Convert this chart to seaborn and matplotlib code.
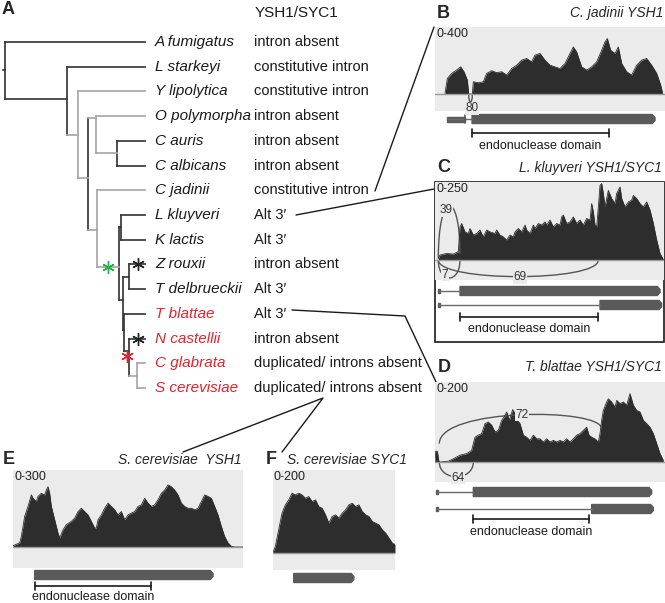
import matplotlib
matplotlib.use('Agg')
import matplotlib.pyplot as plt
import matplotlib.transforms as mtransforms
from matplotlib.patches import Rectangle, PathPatch, Polygon
from matplotlib.path import Path
import seaborn as sns

# ---------------- data ----------------
species = ['A fumigatus', 'L starkeyi', 'Y lipolytica', 'O polymorpha', 'C auris',
           'C albicans', 'C jadinii', 'L kluyveri', 'K lactis', 'Z rouxii',
           'T delbrueckii', 'T blattae', 'N castellii', 'C glabrata', 'S cerevisiae']
status = ['intron absent', 'constitutive intron', 'constitutive intron', 'intron absent',
          'intron absent', 'intron absent', 'constitutive intron', "Alt 3\u2032", "Alt 3\u2032",
          'intron absent', "Alt 3\u2032", "Alt 3\u2032", 'intron absent',
          'duplicated/ introns absent', 'duplicated/ introns absent']
red_species = ['T blattae', 'N castellii', 'C glabrata', 'S cerevisiae']

# tree: internal nodes (depth 0..1, leaves at depth 1), row position, parent
node_names = ['root', 'n2', 'n3', 'n4', 'n5', 'n6', 'n7', 'n8', 'nKK', 'n9', 'nZT', 'nT', 'nN', 'nCS']
node_depth = [0.0, 0.443, 0.521, 0.593, 0.650, 0.800, 0.657, 0.814, 0.829, 0.843, 0.886, 0.850, 0.886, 0.943]
node_row = [1.15, 2.31, 3.77, 5.5, 3.08, 4.5, 7.6, 9.1, 7.5, 10.45, 9.5, 11.66, 12.5, 13.5]
node_parent = [None, 'root', 'n2', 'n3', 'n4', 'n5', 'n4', 'n7', 'n8', 'n8', 'n9', 'n9', 'nT', 'nN']
node_edge_light = [False, False, True, True, True, True, True, True, False, False, False, False, False, True]
node_vert_light = [False, False, True, False, True, False, True, False, False, False, False, False, False, True]
leaf_parent = ['root', 'n2', 'n3', 'n5', 'n6', 'n6', 'n7', 'nKK', 'nKK', 'nZT', 'nZT', 'nT', 'nN', 'nCS', 'nCS']
leaf_light = [False, False, True, True, False, False, True, False, False, False, False, False, False, True, True]
# event marks on branches: depth, row, colour
mark_depth = [0.736, 0.95, 0.95, 0.871]
mark_row = [9.1, 9.0, 12.0, 12.7]
mark_color = ['#22b04b', '#222222', '#222222', '#e8212b']

# coverage tracks (position, read depth)
B_pos = [30, 37, 50, 65, 77, 87, 97, 101, 112, 115, 130, 145, 155, 170, 185, 200, 215, 230,
         245, 260, 275, 290, 300, 315, 330, 345, 360, 375, 390, 405, 415, 425, 440, 455, 470,
         485, 500, 510, 517, 527, 540, 550, 560, 575, 590, 605, 620, 635, 650, 665, 677, 683]
B_cov = [4, 93, 123, 143, 162, 133, 83, 0, 0, 73, 67, 73, 123, 139, 127, 133, 113, 152,
         172, 202, 212, 192, 232, 242, 202, 172, 162, 152, 182, 242, 281, 251, 162, 143, 162,
         192, 261, 311, 331, 261, 242, 281, 182, 133, 113, 172, 202, 212, 172, 123, 53, 4]

C_pos = [10, 15, 35, 55, 70, 75, 80, 90, 100, 105, 115, 125, 135, 145, 155, 165, 180, 185,
         195, 205, 215, 225, 235, 240, 250, 260, 270, 275, 285, 295, 300, 310, 320, 330, 335,
         345, 355, 365, 375, 380, 385, 395, 405, 415, 425, 435, 445, 455, 465, 470, 475, 480,
         485, 490, 495, 500, 505, 510, 515, 520, 530, 540, 545, 555, 560, 570, 580, 590, 595,
         605, 615, 625, 635, 645, 655, 665, 675, 685]
C_cov = [5, 16, 21, 19, 27, 106, 117, 90, 85, 101, 80, 85, 96, 74, 96, 90, 85, 96,
         80, 74, 64, 80, 74, 90, 101, 90, 112, 96, 85, 112, 101, 117, 112, 122, 112,
         128, 106, 117, 112, 138, 144, 117, 122, 138, 117, 128, 112, 133, 128, 181, 154, 112,
         106, 170, 239, 245, 213, 170, 197, 223, 197, 181, 213, 234, 197, 170, 186, 192, 207,
         197, 181, 170, 186, 160, 117, 64, 21, 2]

D_pos = [0, 2, 7, 11, 15, 40, 55, 75, 95, 110, 115, 120, 130, 140, 150, 160, 170, 180, 190,
         200, 207, 215, 223, 233, 240, 247, 255, 265, 275, 285, 295, 305, 315, 325, 335, 345,
         355, 365, 375, 385, 395, 405, 415, 425, 435, 445, 455, 462, 470, 480, 490, 495, 500,
         505, 515, 520, 530, 540, 545, 555, 565, 575, 585, 595, 605, 615, 625, 635, 645, 655,
         665, 675, 685]
D_cov = [0, 27, 27, 4, 0, 2, 8, 17, 21, 29, 46, 62, 67, 71, 96, 100, 92, 75, 79,
         104, 112, 125, 104, 131, 121, 104, 96, 67, 62, 54, 67, 58, 58, 50, 58, 50,
         54, 50, 54, 50, 58, 50, 58, 67, 71, 79, 87, 67, 62, 58, 50, 71, 104,
         129, 150, 158, 150, 137, 154, 146, 150, 142, 171, 142, 129, 125, 104, 96, 87, 71,
         46, 21, 4]

E_pos = [0, 20, 25, 35, 45, 55, 60, 70, 75, 85, 95, 100, 105, 110, 115, 125, 135, 140, 150,
         160, 175, 185, 195, 205, 215, 225, 235, 245, 250, 255, 265, 275, 285, 295, 305, 315,
         325, 335, 345, 355, 365, 375, 385, 395, 405, 415, 425, 435, 445, 455, 465, 475, 485,
         495, 505, 515, 525, 535, 545, 555, 565, 575, 585, 595, 605, 615, 625, 635, 645, 655,
         665, 690]
E_cov = [5, 16, 41, 119, 158, 203, 190, 177, 197, 209, 203, 222, 235, 209, 158, 106, 54, 35, 67,
         87, 100, 112, 138, 151, 138, 125, 100, 74, 74, 106, 125, 151, 171, 158, 145, 125,
         138, 106, 125, 132, 138, 158, 164, 190, 171, 158, 164, 184, 209, 222, 242, 235, 222,
         203, 171, 158, 151, 151, 145, 151, 177, 203, 197, 190, 158, 125, 80, 41, 16, 3,
         0, 0]

F_pos = [0, 7, 17, 27, 37, 47, 57, 67, 77, 87, 97, 107, 117, 127, 137, 147, 157, 167, 177,
         187, 197, 207, 217, 227, 237, 247, 257, 267, 277, 287, 297, 307, 317, 327, 337, 347,
         357, 365]
F_cov = [2, 16, 56, 96, 116, 128, 144, 140, 144, 140, 132, 136, 124, 128, 112, 108, 92, 72, 88,
         92, 84, 96, 104, 116, 120, 112, 116, 100, 92, 88, 76, 72, 68, 56, 48, 36,
         24, 20]

# splice junctions: start, end, read count
B_junc = [(101, 112, 80)]
C_junc_up = [(10, 75, 39)]
C_junc_down = [(10, 75, 7), (10, 490, 69)]
D_junc_up = [(13, 500, 72)]
D_junc_down = [(13, 115, 64)]

# gene models: (intron-line start, exon start, exon end)
B_models = [(36, 111, 660)]
C_models = [(10, 75, 675), (10, 495, 680)]
D_models = [(3, 115, 650), (3, 470, 655)]
E_models = [(65, 65, 600)]
F_models = [(62, 62, 242)]
domain = {'B': (111, 522), 'C': (75, 490), 'D': (113, 463), 'E': (65, 415)}

# ---------------- figure ----------------
sns.set_theme(style='white')
plt.rcParams['font.family'] = ['Liberation Sans', 'DejaVu Sans']

W, H = 665, 603
fig = plt.figure(figsize=(W / 100, H / 100), dpi=100)
ov = fig.add_axes([0, 0, 1, 1])
ov.set_xlim(0, W)
ov.set_ylim(H, 0)
ov.axis('off')

DARK, LIGHT = '#383838', '#a8a8a8'

# ---- tree ----
tree = fig.add_axes([5 / W, 1 - 388 / H, 140 / W, 346 / H])
tree.set_xlim(0, 1)
tree.set_ylim(14, 0)
tree.axis('off')
depth = dict(zip(node_names, node_depth))
row = dict(zip(node_names, node_row))
children = {n: [] for n in node_names}
for n, p in zip(node_names, node_parent):
    if p:
        children[p].append(row[n])
for i, p in enumerate(leaf_parent):
    children[p].append(i)

kw = dict(lw=1.25, solid_capstyle='projecting', clip_on=False)
for n, p, el, vl in zip(node_names, node_parent, node_edge_light, node_vert_light):
    tree.plot([depth[n]] * 2, [min(children[n]), max(children[n])], color=LIGHT if vl else DARK, **kw)
    if p:
        tree.plot([depth[p], depth[n]], [row[n]] * 2, color=LIGHT if el else DARK, **kw)
tree.plot([-0.015, 0], [row['root']] * 2, color=DARK, **kw)
for i, (p, lt) in enumerate(zip(leaf_parent, leaf_light)):
    tree.plot([depth[p], 1], [i, i], color=LIGHT if lt else DARK, **kw)
for d, r, c in zip(mark_depth, mark_row, mark_color):
    tree.plot(d, r, marker=(6, 2, 0), ms=9, mew=1.0, color=c, clip_on=False)

tr = mtransforms.blended_transform_factory(ov.transData, tree.transData)
for i, (sp, st) in enumerate(zip(species, status)):
    tree.text(155, i, sp, transform=tr, style='italic', fontsize=11, va='center',
              color='#e8212b' if sp in red_species else '#1a1a1a')
    tree.text(254, i, st, transform=tr, fontsize=10.5, va='center', color='#1a1a1a')
ov.text(255, 13, 'YSH1/SYC1', fontsize=11, va='center', color='#1a1a1a')
ov.text(2, 10, 'A', fontsize=13, fontweight='bold', va='center')

# connectors
ov.plot([375, 434], [191, 27], color='#1a1a1a', lw=1)
ov.plot([296, 434], [215, 189], color='#1a1a1a', lw=1)
ov.plot([292, 405, 437], [310, 316, 384], color='#1a1a1a', lw=1)
ov.plot([183, 323, 282], [452, 398, 452], color='#1a1a1a', lw=1)


# ---- coverage panels ----
def panel(x0, x1, top, base, bottom, xmax, ymax, pos, cov, rng):
    ax = fig.add_axes([x0 / W, 1 - bottom / H, (x1 - x0) / W, (bottom - top) / H])
    ax.set_facecolor('#ebebeb')
    ax.fill_between(pos, cov, 0, color='#2d2d2d', lw=0)
    sns.lineplot(x=pos, y=cov, ax=ax, color='#2d2d2d', lw=0.6)
    ax.axhline(0, color='#9a9a9a', lw=1)
    ax.set_xlim(0, xmax)
    ax.set_ylim(-ymax * (bottom - base) / (base - top), ymax)
    ax.set_xticks([])
    ax.set_yticks([])
    ax.set_xlabel('')
    ax.set_ylabel('')
    for s in ax.spines.values():
        s.set_visible(False)
    ax.text(0.008, 0.985, rng, transform=ax.transAxes, fontsize=9, va='top', ha='left', color='#222')
    return ax


def junction(ax, x1, x2, ya, yb, h, n, lx, ly):
    path = Path([(x1, ya), (x1, h), (x2, h), (x2, yb)],
                [Path.MOVETO, Path.CURVE4, Path.CURVE4, Path.CURVE4])
    ax.add_patch(PathPatch(path, fc='none', ec='#555555', lw=1, clip_on=False))
    ax.text(lx, ly, str(n), ha='center', va='center', fontsize=8.5, color='#333',
            bbox=dict(fc='#ebebeb', ec='none', pad=0.3))


def models(ax, models_, ys, dom=None, dom_y=None, text_y=None, small=None):
    t = mtransforms.blended_transform_factory(ax.transData, ov.transData)
    for (s, es, ee), y in zip(models_, ys):
        if s < es:
            ax.plot([s, es], [y, y], color='#6a6a6a', lw=1, transform=t, clip_on=False)
            if small is None:
                ax.add_patch(Rectangle((s, y - 2), 6, 4, color='#5a5a5a', transform=t, clip_on=False))
        hh = 4.5
        ax.add_patch(Polygon([(es, y - hh), (ee - 8, y - hh), (ee, y - 1.5), (ee, y + 1.5),
                              (ee - 8, y + hh), (es, y + hh)], closed=True, color='#5a5a5a',
                             transform=t, clip_on=False))
    if small is not None:
        s, e, y = small
        ax.add_patch(Rectangle((s, y - 2.5), e - s, 5, color='#5a5a5a', transform=t, clip_on=False))
        ax.plot([e, e], [y - 4, y + 4], color='#5a5a5a', lw=1.2, transform=t, clip_on=False)
    if dom is not None:
        a, b = dom
        ax.plot([a, b], [dom_y, dom_y], color='#1a1a1a', lw=1.2, transform=t, clip_on=False)
        for xx in (a, b):
            ax.plot([xx, xx], [dom_y - 4, dom_y + 4], color='#1a1a1a', lw=1.2, transform=t, clip_on=False)
        ax.text((a + b) / 2, text_y, 'endonuclease domain', ha='center', va='center', fontsize=9,
                transform=t, color='#1a1a1a')


# B
axB = panel(435, 665, 27, 94, 111, 690, 400, B_pos, B_cov, '0-400')
for s, e, n in B_junc:
    junction(axB, s, e, 0, 0, -64, n, 111, -84)
models(axB, B_models, [119], domain['B'], 133, 146, small=(36, 90, 119))
ov.text(437, 13, 'B', fontsize=13, fontweight='bold', va='center')
ov.text(663, 13, 'C. jadinii YSH1', style='italic', fontsize=10, ha='right', va='center')

# C
axC = panel(435, 664, 182, 260, 280, 687, 250, C_pos, C_cov, '0-250')
for s, e, n in C_junc_up:
    junction(axC, s, e, 5, 20, 228, n, 33, 160)
junction(axC, C_junc_down[0][0], C_junc_down[0][1], 0, 0, -77, C_junc_down[0][2], 30, -48)
junction(axC, C_junc_down[1][0], C_junc_down[1][1], 0, 0, -71, C_junc_down[1][2], 255, -55)
models(axC, C_models, [291, 305], domain['C'], 317, 329)
ov.add_patch(Rectangle((435, 182), 229, 160, fc='none', ec='#1a1a1a', lw=1.2))
ov.text(437, 168, 'C', fontsize=13, fontweight='bold', va='center')
ov.text(662, 168, 'L. kluyveri YSH1/SYC1', style='italic', fontsize=10, ha='right', va='center')

# D
axD = panel(435, 665, 382, 462, 482, 690, 200, D_pos, D_cov, '0-200')
for s, e, n in D_junc_up:
    junction(axD, s, e, 46, 83, 136, n, 260, 118)
for s, e, n in D_junc_down:
    junction(axD, s, e, 0, 0, -49, n, 68, -40)
models(axD, D_models, [492, 509], domain['D'], 519, 532)
ov.text(438, 367, 'D', fontsize=13, fontweight='bold', va='center')
ov.text(662, 367, 'T. blattae YSH1/SYC1', style='italic', fontsize=10, ha='right', va='center')

# E
axE = panel(13, 243, 470, 547, 568, 690, 300, E_pos, E_cov, '0-300')
models(axE, E_models, [575], domain['E'], 586, 597)
ov.text(3, 460, 'E', fontsize=13, fontweight='bold', va='center')
ov.text(242, 460, 'S. cerevisiae  YSH1', style='italic', fontsize=10, ha='right', va='center')

# F
axF = panel(273, 395, 470, 553, 570, 365, 200, F_pos, F_cov, '0-200')
models(axF, F_models, [578])
ov.text(266, 460, 'F', fontsize=13, fontweight='bold', va='center')
ov.text(287, 460, 'S. cerevisiae SYC1', style='italic', fontsize=10, ha='left', va='center')

fig.savefig('out.png', dpi=100)
